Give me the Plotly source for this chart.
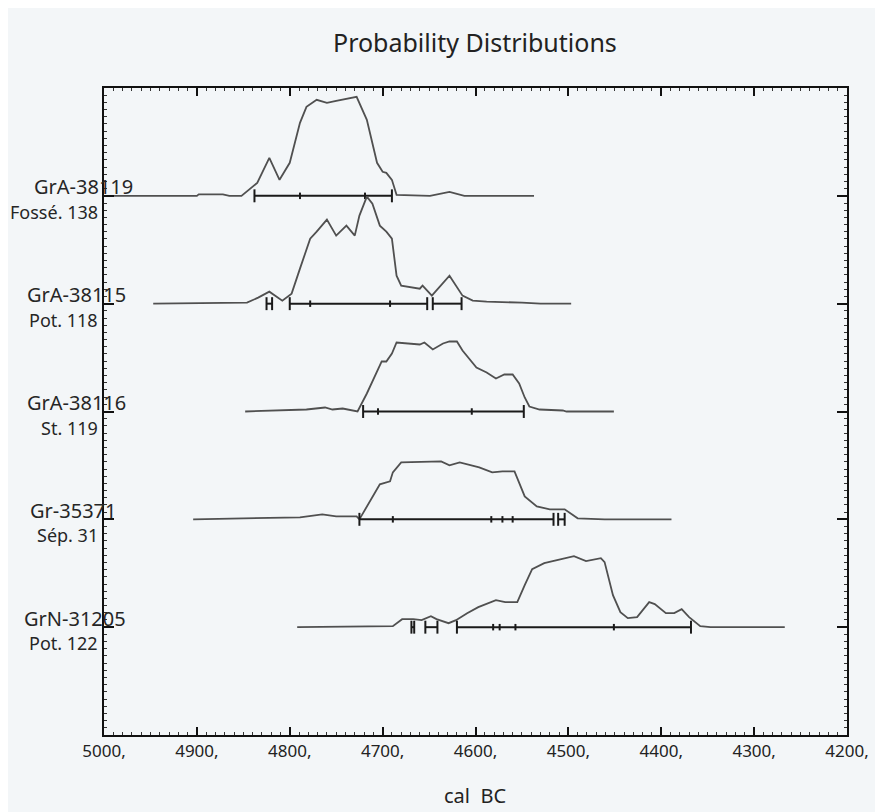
import plotly.graph_objects as go

# ---------------- data ----------------
sample_names = ["GrA-38119", "GrA-38115", "GrA-38116", "Gr-35371", "GrN-31205"]
sample_contexts = ["Fossé. 138", "Pot. 118", "St. 119", "Sép. 31", "Pot. 122"]

# probability curves: calendar years (BC) and relative probability (row height = 108)
years_38119 = [5000, 4900, 4898, 4872, 4865, 4852, 4835, 4822, 4811, 4800, 4789, 4782, 4771,
               4760, 4750, 4740, 4728, 4717, 4706, 4700, 4696, 4690, 4685, 4649, 4640, 4628,
               4612, 4537]
prob_38119 = [0, 0, 1.5, 1.5, 0, 0, 13, 38, 16, 33, 73, 89, 96,
              93, 95, 97, 99, 76, 33, 24, 23, 16, 1, 0, 2, 4,
              0, 0]

years_38115 = [4947, 4846, 4834, 4822, 4808, 4798, 4789, 4778, 4771, 4760, 4750, 4739, 4730,
               4725, 4717, 4711, 4703, 4696, 4690, 4685, 4680, 4660, 4657, 4647, 4628, 4614,
               4603, 4588, 4550, 4530, 4497]
prob_38115 = [0, 1, 6, 12, 3, 10, 35, 65, 72, 84, 68, 78, 68,
              88, 107, 100, 78, 72, 65, 28, 18, 15, 18, 8, 28, 8,
              3, 2, 1, 0, 0]

years_38116 = [4848, 4782, 4762, 4754, 4743, 4732, 4727, 4717, 4706, 4701, 4696, 4690, 4685,
               4671, 4660, 4655, 4646, 4635, 4628, 4620, 4614, 4599, 4588, 4578, 4569, 4560,
               4553, 4547, 4542, 4531, 4506, 4502, 4451]
prob_38116 = [0, 2, 4, 2, 3, 1, 0, 18, 41, 50, 50, 58, 69,
              68, 67, 69, 62, 68, 70, 70, 61, 44, 39, 33, 37, 37,
              28, 14, 5, 2, 1, 0, 0]

years_35371 = [4904, 4789, 4765, 4750, 4728, 4725, 4703, 4692, 4689, 4680, 4637, 4628, 4617,
               4596, 4582, 4571, 4558, 4547, 4534, 4520, 4504, 4490, 4461, 4389]
prob_35371 = [0, 2, 5, 3, 3, 0, 35, 38, 47, 57, 58, 54, 57,
              52, 47, 48, 48, 23, 13, 10, 10, 1, 0, 0]

years_31205 = [4792, 4710, 4689, 4679, 4667, 4658, 4648, 4642, 4629, 4621, 4609, 4597, 4578,
               4568, 4555, 4547, 4539, 4526, 4506, 4494, 4481, 4465, 4461, 4452, 4444, 4436,
               4426, 4413, 4407, 4395, 4386, 4378, 4370, 4358, 4347, 4267]
prob_31205 = [0, 1, 1, 8, 8, 7, 11, 8, 4, 7, 14, 20, 27,
              25, 25, 42, 58, 64, 68, 71, 66, 69, 65, 32, 15, 9,
              10, 25, 23, 14, 14, 18, 10, 1, 0, 0]

# calibrated ranges (start, end) and inner range boundaries
ranges_38119 = [(4838, 4690)]
marks_38119 = [4789, 4719]
ranges_38115 = [(4825, 4819), (4800, 4652), (4646, 4615)]
marks_38115 = [4778, 4692]
ranges_38116 = [(4721, 4548)]
marks_38116 = [4705, 4604]
ranges_35371 = [(4725, 4516), (4511, 4504)]
marks_35371 = [4689, 4583, 4571, 4560]
ranges_31205 = [(4669, 4666), (4654, 4641), (4620, 4368)]
marks_31205 = [4581, 4574, 4557, 4451]

x_ticks = [5000, 4900, 4800, 4700, 4600, 4500, 4400, 4300, 4200]
x_tick_labels = ["5000,", "4900,", "4800,", "4700,", "4600,", "4500,", "4400,", "4300,", "4200,"]

curves = [
    (years_38119, prob_38119, ranges_38119, marks_38119),
    (years_38115, prob_38115, ranges_38115, marks_38115),
    (years_38116, prob_38116, ranges_38116, marks_38116),
    (years_35371, prob_35371, ranges_35371, marks_35371),
    (years_31205, prob_31205, ranges_31205, marks_31205),
]

ROW = 107.8  # probability units per row
FONT = "Noto Sans, Open Sans, DejaVu Sans, sans-serif"
OFF = 8  # page body margin
W, H = 883 - OFF, 812 - OFF
L, R, T, B = 104 - OFF, 847 - OFF, 88 - OFF, 735 - OFF

fig = go.Figure()

for i, (yrs, prob, rngs, marks) in enumerate(curves):
    base = 5 - i
    fig.add_trace(go.Scatter(
        x=yrs, y=[base + p / ROW for p in prob], mode="lines",
        line=dict(color="#505050", width=1.8), hoverinfo="skip", showlegend=False))
    bx, by = [], []
    for s, e in rngs:
        bx += [s, e, None]
        by += [base, base, None]
        for v in (s, e):
            bx += [v, v, None]
            by += [base - 0.06, base + 0.06, None]
    for m in marks:
        bx += [m, m, None]
        by += [base - 0.03, base + 0.03, None]
    fig.add_trace(go.Scatter(
        x=bx, y=by, mode="lines", line=dict(color="#1a1a1a", width=2),
        hoverinfo="skip", showlegend=False))


def px_x(v):
    return (v - OFF - L) / (R - L)


def px_y(v):
    return (B - (v - OFF)) / (B - T)


annotations = []
name_right = [135, 128, 128, 118, 128]
for i, (nm, ctx) in enumerate(zip(sample_names, sample_contexts)):
    base = 5 - i
    annotations.append(dict(
        x=px_x(name_right[i]), y=base + 9 / ROW, xref="paper", yref="y", text=nm,
        showarrow=False, xanchor="right", yanchor="middle",
        font=dict(family=FONT, size=20, color="#262626")))
    annotations.append(dict(
        x=px_x(100), y=base - 16 / ROW, xref="paper", yref="y", text=ctx,
        showarrow=False, xanchor="right", yanchor="middle",
        font=dict(family=FONT, size=18, color="#262626")))

annotations.append(dict(x=px_x(475), y=px_y(42), xref="paper", yref="paper",
                        text="Probability Distributions", showarrow=False,
                        xanchor="center", yanchor="middle",
                        font=dict(family=FONT, size=25, color="#222222")))
annotations.append(dict(x=px_x(475), y=px_y(796), xref="paper", yref="paper", text="cal  BC",
                        showarrow=False, xanchor="center", yanchor="middle",
                        font=dict(family=FONT, size=20, color="#222222")))

fig.update_layout(
    width=W, height=H,
    margin=dict(l=L, r=W - R, t=T, b=H - B),
    paper_bgcolor="#f3f6f8", plot_bgcolor="#f3f6f8",
    annotations=annotations,
    xaxis=dict(range=[5000, 4200], tickvals=x_ticks, ticktext=x_tick_labels,
               ticks="inside", ticklen=8, tickwidth=2, tickcolor="#111111",
               showline=True, linewidth=2, linecolor="#111111", mirror="allticks",
               showgrid=False, zeroline=False,
               tickfont=dict(family=FONT, size=17, color="#222222"),
               minor=dict(dtick=10, ticks="inside", ticklen=3, tickwidth=1, tickcolor="#333333")),
    yaxis=dict(range=[0, 6], tickvals=[1, 2, 3, 4, 5], showticklabels=False,
               ticks="inside", ticklen=10, tickwidth=2, tickcolor="#111111",
               showline=True, linewidth=2, linecolor="#111111", mirror="allticks",
               showgrid=False, zeroline=False,
               minor=dict(dtick=1 / 15, tick0=0, ticks="inside", ticklen=3, tickwidth=1,
                          tickcolor="#333333")),
)

fig.write_html("out.html")
